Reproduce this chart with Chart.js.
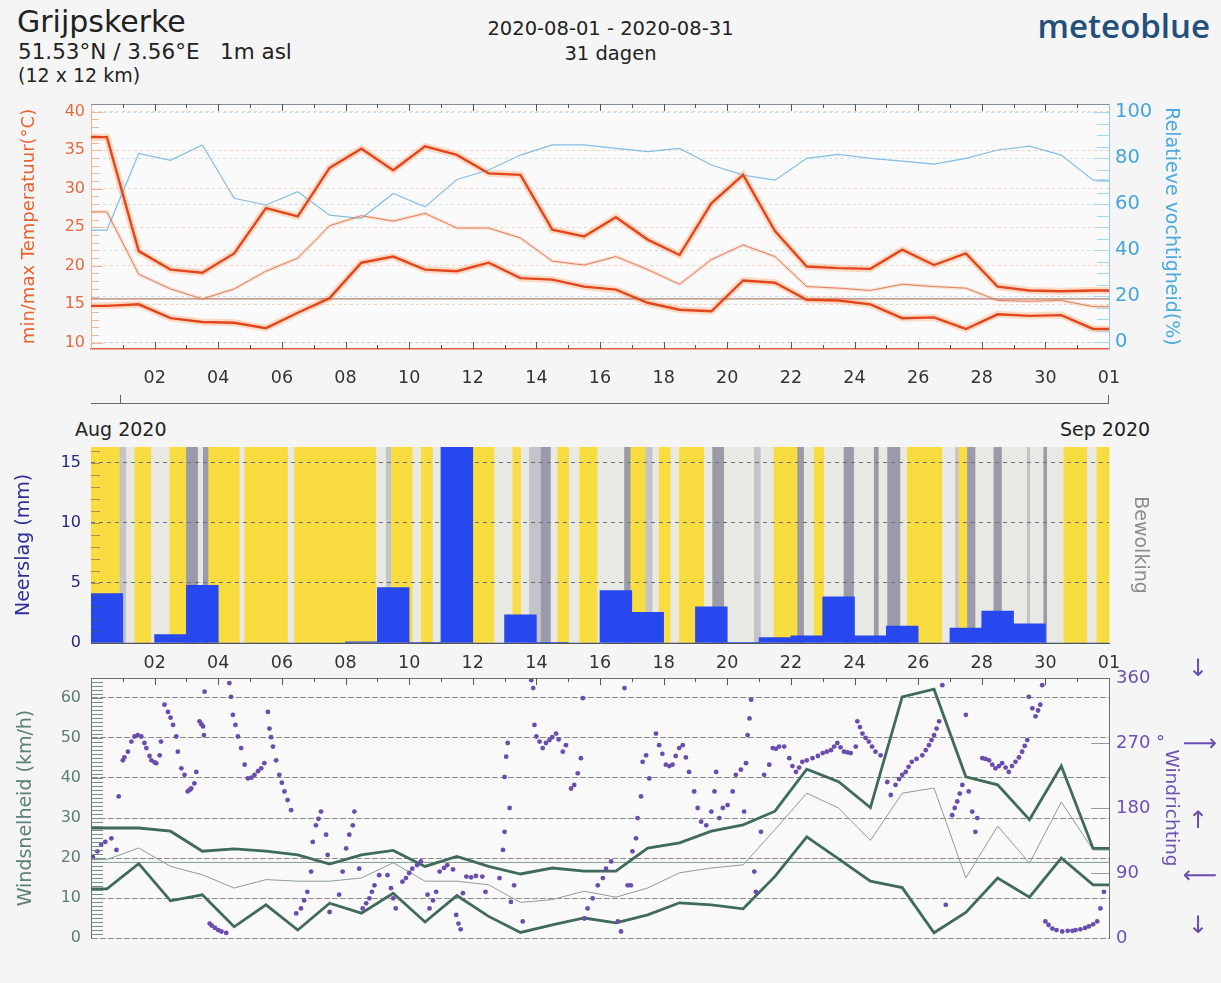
<!DOCTYPE html>
<html lang="nl">
<head>
<meta charset="utf-8">
<title>Grijpskerke - meteoblue</title>
<script src="https://cdn.jsdelivr.net/npm/chart.js@4.4.1/dist/chart.umd.min.js"></script>
<style>
  html, body { margin: 0; padding: 0; background: #f5f5f5; }
  body { width: 1221px; height: 983px; position: relative; overflow: hidden;
         font-family: "DejaVu Sans", sans-serif; color: #222; }
  .tekst { position: absolute; white-space: pre; line-height: 1; }
  .lijn { position: absolute; background: #666; }
  .pijl { position: absolute; color: #6a4caf; font-size: 24px; line-height: 1; width: 40px; text-align: center; }
  canvas { position: absolute; left: 0; }
</style>
</head>
<body>
<!-- kop -->
<div class="tekst" style="left:17px;top:7px;font-size:30px;">Grijpskerke</div>
<div class="tekst" style="left:18px;top:41px;font-size:21.5px;">51.53°N / 3.56°E   1m asl</div>
<div class="tekst" style="left:18px;top:66px;font-size:19px;">(12 x 12 km)</div>
<div class="tekst" style="left:0;width:1221px;text-align:center;top:19px;font-size:19.5px;">2020-08-01 - 2020-08-31</div>
<div class="tekst" style="left:0;width:1221px;text-align:center;top:44px;font-size:19.5px;">31 dagen</div>
<div class="tekst" style="right:11px;top:9px;font-size:33px;font-family:'Open Sans',sans-serif;font-weight:600;color:#234f7c;">meteoblue</div>

<canvas id="temperatuur" width="1221" height="300" style="top:95px"></canvas>

<!-- tijdbalk tussen de panelen -->
<div class="lijn" style="left:91px;top:403px;width:1018px;height:1px;"></div>
<div class="lijn" style="left:120px;top:395px;width:1px;height:8px;"></div>
<div class="lijn" style="left:1108px;top:395px;width:1px;height:8px;"></div>
<div class="tekst" style="left:75px;top:420px;font-size:19px;">Aug 2020</div>
<div class="tekst" style="left:1060px;top:420px;font-size:19px;">Sep 2020</div>

<canvas id="neerslag" width="1221" height="245" style="top:440px"></canvas>
<canvas id="wind" width="1221" height="290" style="top:670px"></canvas>

<!-- windrichting pijlen -->
<div class="pijl" style="left:1178px;top:656px;">↓</div>
<div class="pijl" style="left:1180px;top:731px;">⟶</div>
<div class="pijl" style="left:1178px;top:808px;">↑</div>
<div class="pijl" style="left:1180px;top:863px;">⟵</div>
<div class="pijl" style="left:1178px;top:913px;">↓</div>

<script>
// dagen (1 aug t/m 1 sep), punt in het midden van elke dag
var datums = ['08-01','08-02','08-03','08-04','08-05','08-06','08-07','08-08','08-09','08-10','08-11',
  '08-12','08-13','08-14','08-15','08-16','08-17','08-18','08-19','08-20','08-21','08-22','08-23',
  '08-24','08-25','08-26','08-27','08-28','08-29','08-30','08-31','09-01'];
var dagLabels = ['02','04','06','08','10','12','14','16','18','20','22','24','26','28','30','01'];

// temperatuur (°C) en vochtigheid (%)
var maxTemp = [36.7, 21.9, 19.5, 19.1, 21.6, 27.5, 26.4, 32.7, 35.2, 32.4, 35.5, 34.4, 32.0, 31.8, 24.7, 23.8,
  26.3, 23.4, 21.4, 28.1, 31.8, 24.5, 19.9, 19.7, 19.6, 22.1, 20.1, 21.6, 17.3, 16.8, 16.7, 16.8];
var minTemp = [14.8, 15.0, 13.2, 12.7, 12.6, 11.9, 13.9, 15.8, 20.4, 21.2, 19.5, 19.3, 20.4, 18.4, 18.2, 17.3,
  16.9, 15.2, 14.3, 14.1, 18.1, 17.8, 15.6, 15.5, 15.0, 13.2, 13.3, 11.8, 13.7, 13.5, 13.6, 11.8];
var gemTemp = [27.0, 18.9, 17.0, 15.7, 17.0, 19.3, 21.0, 25.2, 26.5, 25.8, 26.8, 24.9, 24.9, 23.6, 20.6, 20.1,
  21.2, 19.5, 17.6, 20.8, 22.7, 21.2, 17.3, 17.1, 16.8, 17.6, 17.3, 17.1, 15.5, 15.4, 15.5, 14.7];
var vochtigheid = [48.7, 82.0, 79.0, 85.7, 62.5, 59.6, 65.4, 55.2, 53.8, 64.6, 58.8, 70.7, 74.8, 81.3, 85.7, 85.7,
  84.2, 82.8, 84.2, 77.0, 72.6, 70.4, 79.9, 81.6, 79.9, 78.7, 77.4, 79.9, 83.5, 85.2, 81.3, 70.4];
var refTemp = 15.7;
var tempTicks = [10, 15, 20, 25, 30, 35, 40];
var vochtTicks = [0, 20, 40, 60, 80, 100];

// neerslag (mm per dag) en bewolking
var neerslag = [4.1, 0, 0.7, 4.8, 0, 0, 0, 0, 0.1, 4.6, 0.05, 17.0, 0, 2.35, 0.05, 0,
  4.35, 2.55, 0, 3.0, 0.05, 0.45, 0.6, 3.85, 0.6, 1.4, 0, 1.25, 2.65, 1.6, 0, 0];
var neerslagTicks = [0, 5, 10, 15];
// begin van elke bewolkingsstrook (dag) en niveau: 0 zon, 1 licht, 2 grijs, 3 donker
var wolkStart = [0, 0.90, 1.11, 1.37, 1.89, 2.47, 2.99, 3.36, 3.52, 3.69, 4.67, 4.83, 6.19, 6.39, 8.96, 9.27,
  9.43, 10.11, 10.37, 10.74, 11.0, 12.68, 13.25, 13.51, 13.77, 14.14, 14.45, 14.66, 15.03, 15.35, 15.92, 16.76,
  16.96, 17.43, 17.65, 17.85, 18.22, 18.48, 19.27, 19.53, 19.9, 20.84, 21.05, 21.46, 22.2, 22.41, 22.72, 23.04,
  23.66, 23.98, 24.61, 24.76, 25.03, 25.44, 25.65, 26.75, 27.17, 27.27, 27.54, 27.8, 28.37, 28.63, 29.42, 29.52,
  29.94, 30.05, 30.57, 31.31, 31.61];
var wolkNiveau = [0, 2, 1, 0, 1, 0, 3, 1, 3, 0, 1, 0, 1, 0, 1, 2,
  0, 1, 0, 1, 0, 1, 0, 1, 2, 3, 1, 0, 1, 0, 1, 3,
  0, 2, 1, 0, 1, 0, 1, 3, 1, 2, 1, 0, 3, 1, 0, 1,
  3, 1, 3, 1, 3, 1, 0, 1, 2, 0, 3, 1, 3, 1, 2, 1,
  3, 1, 0, 1, 0];
var wolkKleuren = ['#f9dc3f', '#e9e9e4', '#c3c3ca', '#9a9aa8'];

// wind (km/h)
var windMax = [27.5, 27.5, 26.7, 21.7, 22.3, 21.7, 20.8, 18.5, 20.8, 21.9, 17.9, 20.4, 17.9, 16.0, 17.5, 16.7,
  16.7, 22.5, 23.8, 26.7, 28.3, 31.7, 42.2, 39.1, 32.6, 60.3, 62.2, 40.3, 38.3, 29.6, 43.0, 22.4];
var windGem = [19.6, 22.5, 17.9, 15.8, 12.5, 14.6, 14.2, 14.2, 15.0, 18.8, 14.2, 14.2, 13.3, 8.9, 9.6, 11.7,
  10.2, 12.5, 16.3, 17.5, 18.3, 27.1, 36.2, 32.5, 24.4, 36.2, 37.5, 15.0, 28.0, 18.7, 34.0, 22.0];
var windMin = [12.3, 18.6, 9.3, 10.8, 2.8, 8.3, 2.0, 8.7, 6.2, 11.2, 4.0, 10.6, 5.4, 1.4, 3.3, 5.0,
  3.8, 5.8, 8.8, 8.3, 7.3, 15.4, 25.3, 19.8, 14.2, 12.6, 1.3, 6.4, 15.0, 10.2, 20.0, 13.3];
var refWind = 18.9;
var windTicks = [0, 10, 20, 30, 40, 50, 60];
var richtingTicks = [0, 90, 180, 270, 360];
var richtingLabels = ['0', '90', '180', '270 °', '360'];
// windrichting: [dag, graden]
var windRichting = [
  [0.06,112],[0.2,120],[0.32,129],[0.45,133],[0.64,138],[0.8,122],[0.87,196],[1.0,246],[1.05,250],[1.16,258],
  [1.27,272],[1.37,279],[1.47,281],[1.58,279],[1.68,270],[1.74,263],[1.84,252],[1.9,246],[2.0,243],[2.05,242],
  [2.16,253],[2.2,272],[2.31,323],[2.42,313],[2.5,305],[2.58,295],[2.68,279],[2.73,258],[2.84,235],[2.94,226],
  [3.04,203],[3.1,205],[3.15,207],[3.25,214],[3.31,230],[3.41,300],[3.47,296],[3.52,293],[3.55,281],[3.57,341],
  [3.73,20],[3.8,17],[3.9,14],[4.0,11],[4.1,9],[4.25,7],[4.35,353],[4.4,334],[4.46,309],[4.54,295],
  [4.62,279],[4.72,263],[4.83,240],[4.93,221],[5.04,222],[5.14,226],[5.25,231],[5.35,235],[5.45,242],[5.56,313],
  [5.61,290],[5.66,278],[5.72,265],[5.82,246],[5.92,226],[6.0,215],[6.08,203],[6.18,191],[6.29,177],[6.45,34],
  [6.6,41],[6.7,52],[6.8,64],[6.92,92],[6.97,133],[7.07,156],[7.15,165],[7.23,175],[7.39,143],[7.44,115],
  [7.5,36],[7.8,60],[7.91,92],[8.02,124],[8.12,143],[8.23,156],[8.28,175],[8.43,96],[8.54,41],[8.65,48],
  [8.75,55],[8.83,64],[8.91,73],[9.06,87],[9.32,87],[9.43,69],[9.5,55],[9.58,41],[9.79,78],[9.9,83],
  [10.0,90],[10.1,96],[10.25,101],[10.37,106],[10.58,60],
  [10.64,41],[10.75,52],[10.85,64],[10.96,92],[11.1,97],[11.2,101],[11.38,95],[11.48,32],[11.55,20],[11.62,12],
  [11.69,62],[11.8,85],[11.95,84],[12.1,86],[12.3,85],[12.4,64],[12.84,83],[12.95,122],[13.0,147],[13.0,223],
  [13.05,251],[13.1,270],[13.16,180],[13.2,50],[13.3,73],[13.57,23],[13.84,357],[13.9,346],[13.94,295],[14.0,279],
  [14.1,272],[14.2,263],[14.3,270],[14.41,274],[14.5,278],[14.62,283],[14.7,275],[14.83,258],[14.93,267],[15.09,207],
  [15.19,212],[15.3,228],[15.4,249],[15.46,332],[15.51,27],[15.61,41],[15.77,55],[15.93,73],[16.09,83],[16.19,96],
  [16.35,106],[16.56,23],[16.66,9],[16.77,346],[16.87,73],[16.97,73],[17.02,120],[17.13,138],[17.18,166],[17.29,196],
  [17.34,244],[17.45,253],[17.55,221],[17.76,283],[17.86,267],[17.96,255],[18.07,240],[18.18,238],[18.28,240],[18.38,252],
  [18.49,263],[18.6,267],[18.7,250],[18.8,230],[18.96,203],[19.07,180],[19.18,161],[19.34,156],[19.5,175],[19.6,203],
  [19.65,230],[19.75,166],[19.86,180],[20.01,184],[20.17,203],[20.27,226],[20.43,233],[20.53,175],[20.59,242],[20.64,281],
  [20.7,304],[20.75,330],[20.85,92],[20.9,64],[21.06,147],[21.16,226],[21.32,240],[21.43,263],
  [21.53,262],[21.63,265],[21.79,265],[21.95,249],[22.05,238],[22.16,230],[22.26,236],[22.36,244],[22.5,246],[22.68,249],
  [22.85,252],[23.0,256],[23.13,258],[23.26,260],[23.36,265],[23.46,270],[23.56,264],[23.67,258],[23.78,257],[23.88,256],
  [24.04,265],[24.09,300],[24.17,292],[24.25,283],[24.35,277],[24.45,272],[24.55,265],[24.66,258],[24.82,253],[25.03,216],
  [25.14,198],[25.29,212],[25.4,220],[25.5,226],[25.61,230],[25.7,237],[25.8,244],[25.95,248],[26.13,253],[26.24,260],
  [26.34,267],[26.42,274],[26.5,281],[26.58,290],[26.66,300],[26.76,350],[26.87,46],[27.07,170],[27.15,180],[27.23,189],
  [27.31,200],[27.39,212],[27.5,309],[27.59,203],[27.7,175],[27.8,147],[27.86,166],[28.02,249],[28.12,248],[28.23,246],
  [28.33,240],[28.43,235],[28.54,238],[28.64,242],[28.75,236],[28.85,230],[28.95,238],[29.06,244],[29.17,250],[29.27,258],
  [29.35,266],[29.43,274],[29.48,334],[29.59,318],[29.69,307],[29.77,315],[29.84,323],[29.9,350],[30.0,23],[30.1,18],
  [30.22,13],[30.35,11],[30.53,9],[30.7,10],[30.85,10],[30.95,11],[31.1,12],[31.25,14],[31.37,16],[31.5,19],
  [31.63,23],[31.73,41],[31.84,64]
];

var X_MIN = 0, X_MAX = 32;

Chart.defaults.font.family = '"DejaVu Sans", sans-serif';

// daglijn: punt per dag, aan beide kanten vlak doorgetrokken tot de rand
function punten(waarden) {
  var p = waarden.map(function (v, i) { return {x: i + 0.5, y: v}; });
  p.unshift({x: X_MIN, y: waarden[0]});
  p.push({x: X_MAX, y: waarden[waarden.length - 1]});
  return p;
}
function vlak(waarde) {
  return [{x: X_MIN, y: waarde}, {x: X_MAX, y: waarde}];
}
// vaste maten zodat de drie panelen precies onder elkaar liggen
function vasteBreedte(w) {
  return function (s) { s.width = w; s.paddingTop = 0; s.paddingBottom = 0; };
}
function vasteHoogte(h) {
  return function (s) { s.height = h; s.paddingLeft = 0; s.paddingRight = 0; };
}
function tickLijst(lijst) {
  return function (s) { s.ticks = lijst.map(function (v) { return {value: v}; }); };
}
function dagTicks(s) {
  var t = [];
  for (var d = X_MIN; d <= X_MAX; d++) t.push({value: d});
  s.ticks = t;
}
function dagLabel(v) {
  return (v > 0 && v % 2 === 0) ? dagLabels[v / 2 - 1] : '';
}

// achtergrond van het plotvlak
var achtergrond = {
  id: 'achtergrond',
  beforeDraw: function (chart, args, o) {
    var a = chart.chartArea, ctx = chart.ctx;
    ctx.save();
    ctx.fillStyle = o.kleur || '#fafafa';
    ctx.fillRect(a.left, a.top, a.right - a.left, a.bottom - a.top);
    ctx.restore();
  }
};

// bewolkingsstroken achter de neerslag
var wolken = {
  id: 'wolken',
  beforeDraw: function (chart) {
    var a = chart.chartArea, ctx = chart.ctx, x = chart.scales.x;
    ctx.save();
    for (var i = 0; i < wolkStart.length; i++) {
      var x0 = x.getPixelForValue(wolkStart[i]);
      var x1 = x.getPixelForValue(i + 1 < wolkStart.length ? wolkStart[i + 1] : X_MAX);
      ctx.fillStyle = wolkKleuren[wolkNiveau[i]];
      ctx.fillRect(x0, a.top, x1 - x0 + 0.5, a.bottom - a.top);
    }
    ctx.restore();
  }
};

// korte streepjes binnen het plotvlak + bovenrand
var streepjes = {
  id: 'streepjes',
  afterDatasetsDraw: function (chart, args, o) {
    var a = chart.chartArea, ctx = chart.ctx;
    ctx.save();
    ctx.lineWidth = 1;
    if (o.bovenrand) {
      ctx.strokeStyle = o.bovenrand;
      ctx.beginPath();
      ctx.moveTo(a.left, a.top + 0.5);
      ctx.lineTo(a.right, a.top + 0.5);
      ctx.stroke();
    }
    (o.lijsten || []).forEach(function (s) {
      var sc = chart.scales[s.as];
      ctx.strokeStyle = s.kleur;
      ctx.beginPath();
      for (var v = s.van; v <= s.tot + 1e-9; v += s.stap) {
        var p = Math.round(sc.getPixelForValue(v)) + 0.5;
        var len = (s.langElke && Math.abs(v % s.langElke) < 1e-6) ? s.lang : s.kort;
        if (s.kant === 'boven') { ctx.moveTo(p, a.top); ctx.lineTo(p, a.top + len); }
        if (s.kant === 'onder') { ctx.moveTo(p, a.bottom); ctx.lineTo(p, a.bottom - len); }
        if (s.kant === 'links') { ctx.moveTo(a.left, p); ctx.lineTo(a.left + len, p); }
        if (s.kant === 'rechts') { ctx.moveTo(a.right, p); ctx.lineTo(a.right - len, p); }
      }
      ctx.stroke();
    });
    ctx.restore();
  }
};

var basis = {
  responsive: false,
  devicePixelRatio: 1,
  animation: false,
  events: [],
  elements: { point: { radius: 0 }, line: { tension: 0 } },
  plugins: { legend: { display: false }, tooltip: { enabled: false } }
};

// ---------- temperatuur en vochtigheid ----------
new Chart(document.getElementById('temperatuur'), {
  type: 'line',
  plugins: [achtergrond, streepjes],
  data: {
    datasets: [
      { data: punten(maxTemp), borderColor: '#e4461b', borderWidth: 2.4, yAxisID: 'y' },
      { data: punten(minTemp), borderColor: '#e4461b', borderWidth: 2.4, yAxisID: 'y' },
      { data: punten(gemTemp), borderColor: '#e0805f', borderWidth: 1, yAxisID: 'y' },
      { data: punten(vochtigheid), borderColor: '#84bde4', borderWidth: 1.2, yAxisID: 'y2' },
      { data: vlak(refTemp), borderColor: '#a2604e', borderWidth: 1, yAxisID: 'y' },
      // zachte gloed onder de temperatuurlijnen
      { data: punten(maxTemp), borderColor: 'rgba(250,170,120,0.4)', borderWidth: 7, yAxisID: 'y' },
      { data: punten(minTemp), borderColor: 'rgba(250,170,120,0.4)', borderWidth: 7, yAxisID: 'y' },
      { data: punten(gemTemp), borderColor: 'rgba(250,195,165,0.45)', borderWidth: 3.5, yAxisID: 'y' }
    ]
  },
  options: Object.assign({}, basis, {
    layout: { padding: { top: 9 } },
    scales: {
      x: {
        type: 'linear', min: X_MIN, max: X_MAX,
        afterFit: vasteHoogte(46), afterBuildTicks: dagTicks,
        grid: { display: false, drawTicks: false },
        border: { color: '#e0603c', width: 1.5 },
        ticks: { callback: dagLabel, autoSkip: false, maxRotation: 0, padding: 19, color: '#333', font: { size: 17.5 } }
      },
      y: {
        min: 9.2, max: 41,
        afterFit: vasteBreedte(91), afterBuildTicks: tickLijst(tempTicks),
        grid: { color: 'rgba(236,165,125,0.45)', drawTicks: false },
        border: { color: '#eab49a', dash: [3, 3] },
        ticks: { color: '#e46a3c', padding: 6, font: { size: 16 } },
        title: { display: true, text: 'min/max Temperatuur(°C)', color: '#e8622e', font: { size: 18 }, padding: { top: 19 } }
      },
      y2: {
        position: 'right', min: -3, max: 103.5,
        afterFit: vasteBreedte(112), afterBuildTicks: tickLijst(vochtTicks),
        grid: { color: 'rgba(140,195,232,0.45)', drawTicks: false },
        border: { color: '#8fc8ea', dash: [3, 3] },
        ticks: { color: '#45a6da', padding: 6, font: { size: 19.5 } },
        title: { display: true, text: 'Relatieve vochtigheid(%)', color: '#4aaade', font: { size: 19 }, padding: { top: 39 } }
      }
    },
    plugins: Object.assign({}, basis.plugins, {
      achtergrond: { kleur: '#fafafa' },
      streepjes: {
        bovenrand: '#8c8c8c',
        lijsten: [
          { as: 'x', kant: 'boven', van: 1, tot: 31, stap: 1, kort: 4, lang: 7, langElke: 2, kleur: '#555' },
          { as: 'x', kant: 'onder', van: 1, tot: 31, stap: 1, kort: 4, lang: 7, langElke: 2, kleur: '#555' },
          { as: 'y', kant: 'links', van: 10, tot: 40, stap: 1, kort: 8, lang: 12, langElke: 5, kleur: '#e9b79c' },
          { as: 'y2', kant: 'rechts', van: 0, tot: 100, stap: 5, kort: 12, lang: 16, langElke: 20, kleur: '#a9d5ee' }
        ]
      }
    })
  })
});

// ---------- neerslag en bewolking ----------
new Chart(document.getElementById('neerslag'), {
  type: 'bar',
  plugins: [wolken, streepjes],
  data: {
    datasets: [{
      data: neerslag.map(function (v, i) { return {x: i + 0.5, y: v}; }),
      backgroundColor: '#2748ee', borderWidth: 0,
      barPercentage: 1, categoryPercentage: 1
    }]
  },
  options: Object.assign({}, basis, {
    layout: { padding: { top: 7 } },
    scales: {
      x: {
        type: 'linear', min: X_MIN, max: X_MAX, offset: false,
        afterFit: vasteHoogte(42), afterBuildTicks: dagTicks,
        grid: { display: false, drawTicks: false, offset: false },
        border: { color: '#555', width: 1 },
        ticks: { callback: dagLabel, autoSkip: false, maxRotation: 0, padding: 10, color: '#333', font: { size: 17.5 } }
      },
      y: {
        min: 0, max: 16.3,
        afterFit: vasteBreedte(91), afterBuildTicks: tickLijst(neerslagTicks),
        grid: { color: '#6c6c7c', drawTicks: false },
        border: { display: false, dash: [4, 4] },
        ticks: { color: '#25257c', padding: 10, font: { size: 16 } },
        title: { display: true, text: 'Neerslag (mm)', color: '#2e2e9a', font: { size: 19 }, padding: { top: 13 } }
      },
      y2: {
        position: 'right', min: 0, max: 100,
        afterFit: vasteBreedte(112),
        grid: { display: false, drawTicks: false },
        border: { display: false },
        ticks: { display: false },
        title: { display: true, text: 'Bewolking', color: '#8c8c8c', font: { size: 19 }, padding: { top: 70 } }
      }
    },
    plugins: Object.assign({}, basis.plugins, {
      streepjes: {
        lijsten: [
          { as: 'y', kant: 'links', van: 1, tot: 16, stap: 1, kort: 9, kleur: 'rgba(90,90,90,0.55)' }
        ]
      }
    })
  })
});

// ---------- wind ----------
new Chart(document.getElementById('wind'), {
  type: 'line',
  plugins: [achtergrond, streepjes],
  data: {
    datasets: [
      { data: windRichting.map(function (r) { return {x: r[0], y: r[1]}; }), yAxisID: 'y2',
        showLine: false, pointRadius: 2.4, pointBackgroundColor: '#6a4caf', pointBorderWidth: 0 },
      { data: punten(windMax), borderColor: '#3f6a5d', borderWidth: 2.8, yAxisID: 'y' },
      { data: punten(windMin), borderColor: '#3f6a5d', borderWidth: 2.8, yAxisID: 'y' },
      { data: punten(windGem), borderColor: '#8e9d97', borderWidth: 1, yAxisID: 'y' },
      { data: vlak(refWind), borderColor: '#7f9b95', borderWidth: 1, yAxisID: 'y' }
    ]
  },
  options: Object.assign({}, basis, {
    layout: { padding: { top: 8, bottom: 22 } },
    scales: {
      x: { type: 'linear', min: X_MIN, max: X_MAX, display: false, afterBuildTicks: dagTicks },
      y: {
        min: 0, max: 65,
        afterFit: vasteBreedte(91), afterBuildTicks: tickLijst(windTicks),
        grid: { color: '#8c8c8c', drawTicks: false },
        border: { color: '#6e6e6e', dash: [6, 2] },
        ticks: { color: '#5e7d76', padding: 10, font: { size: 16 } },
        title: { display: true, text: 'Windsnelheid (km/h)', color: '#5e807a', font: { size: 19 }, padding: { top: 15 } }
      },
      y2: {
        position: 'right', min: 0, max: 360,
        afterFit: vasteBreedte(112), afterBuildTicks: tickLijst(richtingTicks),
        grid: { display: false, drawTicks: false },
        border: { color: '#6e6e6e' },
        ticks: { color: '#6c50b4', padding: 7, font: { size: 18 },
                 callback: function (v) { return richtingLabels[richtingTicks.indexOf(v)]; } },
        title: { display: true, text: 'Windrichting', color: '#6c50b4', font: { size: 18.5 }, padding: { top: 39 } }
      }
    },
    plugins: Object.assign({}, basis.plugins, {
      achtergrond: { kleur: '#f9f9f9' },
      streepjes: {
        bovenrand: '#6e6e6e',
        lijsten: [
          { as: 'x', kant: 'boven', van: 1, tot: 31, stap: 1, kort: 4, lang: 7, langElke: 2, kleur: '#555' },
          { as: 'y', kant: 'links', van: 1, tot: 64, stap: 1, kort: 12, kleur: '#6f8c86' },
          { as: 'y2', kant: 'rechts', van: 90, tot: 270, stap: 90, kort: 18, kleur: '#9a9a9a' }
        ]
      }
    })
  })
});
</script>
</body>
</html>
